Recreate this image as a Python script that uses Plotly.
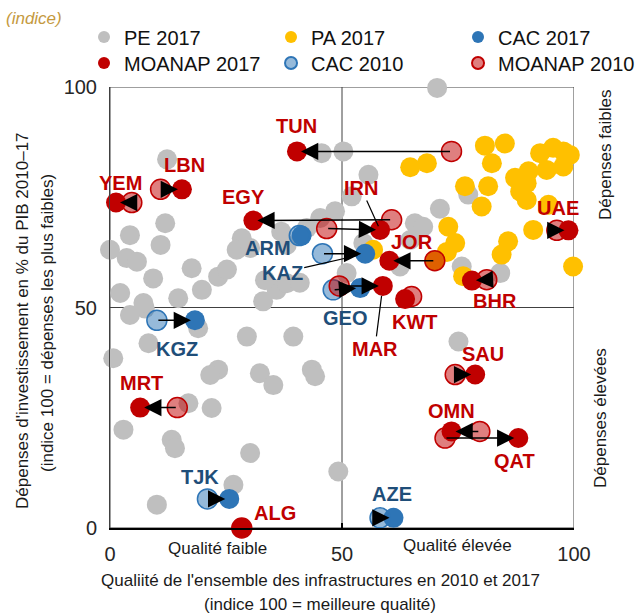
import plotly.graph_objects as go

# ---------------- data ----------------
# PE 2017 (grey)
pe_x = [12.3, 11.9, 4.3, 0.0, 3.6, 5.8, 10.9, 9.3, 17.6, 2.2, 14.7, 19.8, 23.3, 25.2,
        28.4, 27.3, 30.2, 33.0, 35.9, 38.1, 33.4, 45.6, 50.3, 48.5, 45.3, 42.4, 38.1,
        36.9, 40.9,
        70.5, 55.7, 52.1, 71.1, 65.7, 67.5, 62.5, 54.6, 75.8, 77.2, 84.1, 64.7, 51.0,
        7.5, 4.3, 7.2, 19.0, 8.3, 0.7, 29.5, 39.5, 23.3, 21.6, 32.3, 35.2, 43.5, 44.2,
        16.9, 21.9, 2.9, 13.3, 14.0, 30.2, 49.2, 26.6, 10.1, 75.1]
pe_y = [83.6, 69.1, 66.4, 63.1, 61.2, 60.4, 64.2, 56.6, 58.9, 53.3, 52.1, 54.0, 57.0, 58.6,
        65.7, 63.1, 63.5, 51.4, 54.0, 55.5, 56.2, 85.0, 85.4, 71.8, 70.3, 68.0, 64.2,
        67.2, 55.6,
        99.8, 80.1, 75.2, 72.4, 69.1, 68.3, 59.3, 64.6, 59.3, 75.6, 57.8, 65.3, 57.8,
        49.8, 48.3, 51.0, 45.3, 41.9, 38.5, 43.4, 43.4, 35.9, 34.7, 35.1, 32.4, 35.9, 34.4,
        28.3, 27.2, 22.3, 20.0, 18.1, 17.0, 12.8, 9.8, 5.3, 42.3]

# PA 2017 (yellow)
pa_x = [64.7, 68.3, 80.8, 85.1, 82.3, 92.7, 95.5, 97.7, 99.1, 90.2, 94.1, 97.7, 89.8,
        87.3, 76.5, 81.5, 80.1, 88.4, 89.8, 94.5, 91.2, 72.9, 74.4, 72.6, 85.8, 84.4,
        99.8, 56.7, 76.1, 70.0]
pa_y = [81.8, 82.7, 86.7, 87.2, 82.7, 85.0, 86.2, 85.4, 84.6, 80.9, 81.2, 82.0, 78.2,
        79.4, 77.5, 77.5, 72.9, 76.3, 74.4, 73.3, 67.6, 68.3, 64.6, 62.6, 65.0, 62.0,
        59.3, 63.1, 57.1, 60.6]

# CAC
cac_names = ["ARM", "KAZ", "GEO", "AZE", "KGZ", "TJK"]
cac_x2017 = [41.3, 55.0, 53.9, 61.1, 18.3, 25.7]
cac_y2017 = [66.3, 62.2, 54.4, 2.3, 47.1, 6.6]
cac_x2010 = [40.8, 45.8, 48.1, 58.2, 10.1, 21.0]
cac_y2010 = [66.3, 62.2, 54.0, 2.3, 47.1, 6.6]

# MOANAP
mo_names = ["TUN", "LBN", "YEM", "EGY", "IRN", "JOR", "KWT", "MAR", "BHR", "UAE",
            "SAU", "OMN", "QAT", "MRT", "ALG"]
mo_x2017 = [40.3, 15.5, 1.3, 30.9, 58.2, 60.2, 63.6, 58.8, 78.0, 98.8, 78.7, 73.6, 88.0, 6.5, 28.4]
mo_y2017 = [85.4, 76.8, 73.8, 69.7, 67.6, 60.6, 51.9, 54.9, 56.1, 67.5, 34.8, 21.9, 20.4, 27.3, 0.0]
mo_x2010 = [73.6, 10.9, 4.7, 60.7, 46.7, 70.0, 65.0, 49.4, 81.2, 96.3, 74.4, 79.7, 72.2, 14.5, 28.4]
mo_y2010 = [85.4, 76.8, 73.8, 69.9, 67.9, 60.6, 52.5, 54.9, 56.3, 67.5, 34.8, 21.9, 20.4, 27.3, 0.0]

x_ticks = [0, 50, 100]
y_ticks = [0, 50, 100]

# ---------------- style ----------------
FONT = "Liberation Sans, Arial, sans-serif"
RED = "#C00000"
BLUE = "#2E75B6"
BLUE_TXT = "#1F4E79"
GREY = "#BFBFBF"
YELLOW = "#FFC000"
MS = 20

# plot-area geometry in pixels (used to place free texts)
L, R, T, B = 110, 574, 87, 528


def px(xp, yp):
    return (xp - L) / (R - L), (B - yp) / (B - T)


# label offsets (px) relative to 2017 point: dx, dy (screen, down positive)
label_off = {
    "TUN": (0, -25), "LBN": (3, -24), "YEM": (4, -20), "EGY": (-10, -24),
    "JOR": (23, -19), "KWT": (10, 23), "BHR": (23, 20), "UAE": (-10, -22),
    "SAU": (8, -21), "OMN": (0, -20), "QAT": (-4, 23), "MRT": (1, -25),
    "ALG": (33, -15),
    "ARM": (-34, 12), "GEO": (-15, 30), "AZE": (-2, -24), "KGZ": (-18, 29),
    "TJK": (-29, -22),
}
# labels with leader lines: (ax, ay, standoff)
leader = {"IRN": (-19, -42, 4), "KAZ": (-83, 19, 8), "MAR": (-8, 63, 10)}

fig = go.Figure()

fig.add_trace(go.Scatter(x=pe_x, y=pe_y, mode="markers", name="PE 2017",
                         marker=dict(size=MS, color=GREY), cliponaxis=False, legend="legend"))
fig.add_trace(go.Scatter(x=pa_x, y=pa_y, mode="markers", name="PA 2017",
                         marker=dict(size=MS, color=YELLOW), cliponaxis=False, legend="legend"))
fig.add_trace(go.Scatter(x=cac_x2017, y=cac_y2017, mode="markers", name="CAC 2017",
                         marker=dict(size=MS, color=BLUE), cliponaxis=False, legend="legend"))
fig.add_trace(go.Scatter(x=mo_x2017, y=mo_y2017, mode="markers", name="MOANAP 2017",
                         marker=dict(size=MS, color=RED), cliponaxis=False, legend="legend2"))
fig.add_trace(go.Scatter(x=cac_x2010, y=cac_y2010, mode="markers", name="CAC 2010",
                         marker=dict(size=MS, color="rgba(46,117,182,0.5)",
                                     line=dict(color=BLUE, width=1.5)),
                         cliponaxis=False, legend="legend2"))
fig.add_trace(go.Scatter(x=mo_x2010, y=mo_y2010, mode="markers", name="MOANAP 2010",
                         marker=dict(size=MS, color="rgba(192,0,0,0.5)",
                                     line=dict(color=RED, width=1.5)),
                         cliponaxis=False, legend="legend2"))

annotations = []


def add_group(names, x17, y17, x10, y10, color):
    for n, a, b, c, d in zip(names, x17, y17, x10, y10):
        if abs(a - c) + abs(b - d) > 1.0:
            annotations.append(dict(
                x=a, y=b, ax=c, ay=d, xref="x", yref="y", axref="x", ayref="y",
                text="", showarrow=True, arrowhead=2, arrowsize=2.3, arrowwidth=1.5,
                arrowcolor="black", standoff=4))
        if n in leader:
            ax, ay, so = leader[n]
            annotations.append(dict(
                x=a, y=b, xref="x", yref="y", ax=ax, ay=ay, text="<b>%s</b>" % n,
                showarrow=True, arrowhead=0, arrowwidth=1.2, arrowcolor="black",
                standoff=so, font=dict(family=FONT, size=20, color=color)))
        else:
            dx, dy = label_off[n]
            annotations.append(dict(
                x=a, y=b, xref="x", yref="y", xshift=dx, yshift=-dy,
                xanchor="center", yanchor="middle",
                text="<b>%s</b>" % n, showarrow=False,
                font=dict(family=FONT, size=20, color=color)))


add_group(mo_names, mo_x2017, mo_y2017, mo_x2010, mo_y2010, RED)
add_group(cac_names, cac_x2017, cac_y2017, cac_x2010, cac_y2010, BLUE_TXT)

txt = dict(family=FONT, size=17, color="#1a1a1a")


def free_text(xp, yp, text, angle=0, font=txt, xanchor="center"):
    x, y = px(xp, yp)
    annotations.append(dict(xref="paper", yref="paper", x=x, y=y, text=text,
                            showarrow=False, textangle=angle, font=font,
                            xanchor=xanchor, yanchor="middle"))


free_text(217, 548, "Qualité faible")
free_text(457, 545, "Qualité élevée")
free_text(320, 580, "Qualiité de l'ensemble des infrastructures en 2010 et 2017")
free_text(320, 604, "(indice 100 = meilleure qualité)")
free_text(22, 321, "Dépenses d'investissement en % du PIB 2010–17", angle=-90)
free_text(47, 323, "(indice 100 = dépenses les plus faibles)", angle=-90)
free_text(605, 155, "Dépenses faibles", angle=-90)
free_text(600, 418, "Dépenses élevées", angle=-90)
free_text(4, 19, "<i>(indice)</i>", font=dict(family=FONT, size=17, color="#C59A3F"),
          xanchor="left")

shapes = [
    dict(type="rect", xref="x", yref="y", x0=0, x1=100, y0=0, y1=100,
         line=dict(color="#404040", width=1), layer="below"),
    dict(type="line", xref="x", yref="y", x0=50, x1=50, y0=0, y1=100,
         line=dict(color="#404040", width=1), layer="below"),
    dict(type="line", xref="x", yref="y", x0=0, x1=100, y0=50, y1=50,
         line=dict(color="#404040", width=1), layer="below"),
]

leg = dict(orientation="h", xanchor="left", yanchor="middle", x=-0.056,
           font=dict(family=FONT, size=20, color="#111111"), entrywidth=142,
           itemsizing="constant", bgcolor="rgba(0,0,0,0)", borderwidth=0)

fig.update_layout(
    width=636, height=614,
    margin=dict(l=L, r=636 - R, t=T, b=614 - B, autoexpand=False),
    paper_bgcolor="white", plot_bgcolor="white",
    font=dict(family=FONT),
    showlegend=True,
    legend=dict(leg, y=px(0, 37)[1]),
    legend2=dict(leg, y=px(0, 63)[1]),
    xaxis=dict(range=[0, 100], tickvals=x_ticks, showgrid=False, zeroline=False,
               showline=True, linecolor="black", linewidth=2, ticks="inside",
               ticklen=5, tickwidth=1.5, tickcolor="black", ticklabelstandoff=7,
               tickfont=dict(family=FONT, size=20, color="#262626"), fixedrange=True),
    yaxis=dict(range=[0, 100], tickvals=y_ticks, showgrid=False, zeroline=False,
               showline=True, linecolor="#404040", linewidth=1, ticks="",
               ticklabelstandoff=8,
               tickfont=dict(family=FONT, size=20, color="#262626"), fixedrange=True),
    annotations=annotations,
    shapes=shapes,
)

fig.write_html("out.html", config={"displayModeBar": False},
               post_script="document.body.style.margin='0';document.body.style.overflow='hidden';")
